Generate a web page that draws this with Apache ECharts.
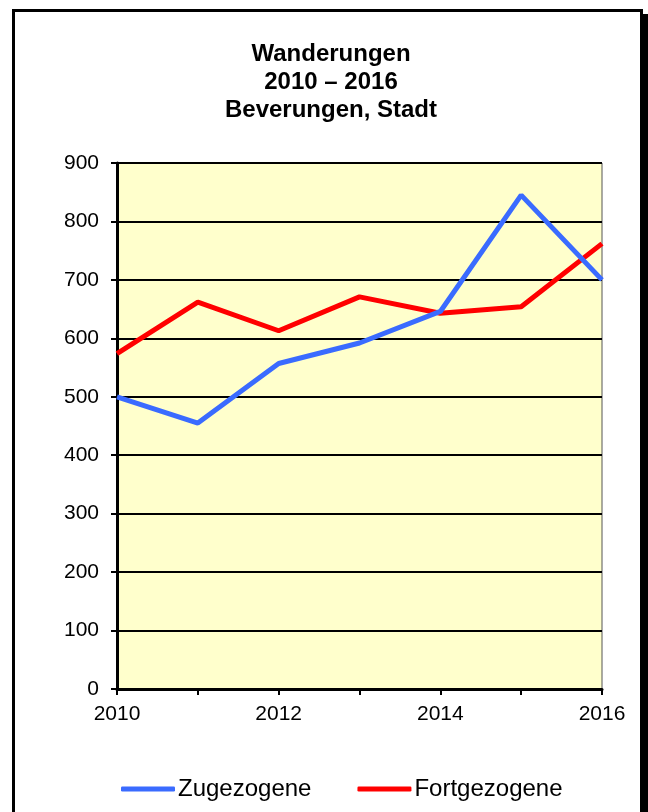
<!DOCTYPE html>
<html>
<head>
<meta charset="utf-8">
<script src="https://cdn.jsdelivr.net/npm/echarts@6/dist/echarts.min.js"></script>
<style>
  html, body { margin: 0; padding: 0; background: #fff; }
  #chart { width: 648px; height: 812px; }
</style>
</head>
<body>
<div id="chart"></div>
<script>
const years = ['2010', '2011', '2012', '2013', '2014', '2015', '2016']
const zugezogene = [500, 455, 557, 592, 646, 845, 700]
const fortgezogene = [574, 662, 613, 671, 643, 654, 762]
const yTicks = { min: 0, max: 900, step: 100 }

const chart = echarts.init(document.getElementById('chart'), null, { renderer: 'canvas' })
const font = 'Liberation Sans, Arial, sans-serif'

const option = {
  backgroundColor: '#fff',
  animation: false,
  title: {
    text: 'Wanderungen\n2010 – 2016\nBeverungen, Stadt',
    left: 326,
    textAlign: 'center',
    top: 35,
    textStyle: {
      fontFamily: font,
      fontSize: 24,
      fontWeight: 'bold',
      color: '#000',
      lineHeight: 28
    }
  },
  graphic: [
    // drop shadow of frame
    {
      type: 'rect',
      shape: { x: 643, y: 14, width: 5, height: 800 },
      style: { fill: '#000' },
      z: 0
    },
    // frame
    {
      type: 'rect',
      shape: { x: 13.5, y: 10.5, width: 628, height: 820 },
      style: { fill: 'none', stroke: '#000', lineWidth: 3 },
      z: 1
    }
  ],
  legend: {
    top: 772,
    left: 116,
    itemGap: 46,
    itemWidth: 54,
    itemHeight: 5,
    icon: 'roundRect',
    textStyle: { fontFamily: font, fontSize: 24, color: '#000', padding: [0, 0, 0, -2] },
    data: ['Zugezogene', 'Fortgezogene']
  },
  grid: {
    left: 117,
    right: 46,
    top: 163,
    bottom: 123,
    show: true,
    backgroundColor: '#FFFFCC',
    borderColor: '#555',
    borderWidth: 1
  },
  xAxis: {
    type: 'category',
    data: years,
    boundaryGap: false,
    axisLine: { lineStyle: { color: '#000', width: 3 } },
    axisTick: { show: true, interval: 0, length: 6, lineStyle: { color: '#000', width: 2 } },
    axisLabel: {
      interval: 1,
      fontFamily: font,
      fontSize: 21,
      color: '#000',
      margin: 15
    },
    splitLine: { show: false }
  },
  yAxis: {
    type: 'value',
    min: yTicks.min,
    max: yTicks.max,
    interval: yTicks.step,
    axisLine: { show: true, lineStyle: { color: '#000', width: 3 } },
    axisTick: { show: true, length: 6, lineStyle: { color: '#000', width: 2 } },
    axisLabel: {
      fontFamily: font,
      fontSize: 21,
      color: '#000',
      margin: 18
    },
    splitLine: { show: true, lineStyle: { color: '#000', width: 2 } }
  },
  series: [
    {
      name: 'Zugezogene',
      type: 'line',
      data: zugezogene,
      symbol: 'none',
      lineStyle: { width: 5, color: '#3A6BFF' },
      itemStyle: { color: '#3A6BFF' },
      z: 3
    },
    {
      name: 'Fortgezogene',
      type: 'line',
      data: fortgezogene,
      symbol: 'none',
      lineStyle: { width: 5, color: '#FF0000' },
      itemStyle: { color: '#FF0000' },
      z: 2
    }
  ]
}

chart.setOption(option)
</script>
</body>
</html>
